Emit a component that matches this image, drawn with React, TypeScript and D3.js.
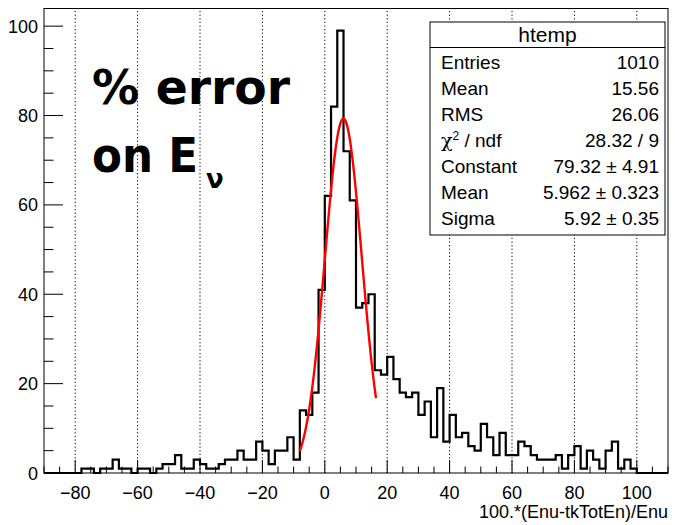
import React from 'react';
import * as d3 from 'd3';

// ---- data ----
const binStart = -90;
const binWidth = 2;
const binCounts = [
  0, 0, 0, 0, 0, 0, 1, 1, 0, 1,
  1, 3, 1, 1, 0, 1, 1, 0, 1, 2,
  2, 4, 1, 1, 3, 2, 1, 1, 2, 3,
  3, 5, 3, 3, 7, 5, 2, 5, 5, 8,
  3, 14, 13, 18, 41, 62, 82, 99, 72, 61,
  37, 38, 40, 23, 22, 26, 21, 18, 17, 18,
  13, 16, 8, 19, 7, 13, 8, 9, 6, 5,
  11, 8, 4, 9, 4, 4, 7, 6, 4, 3,
  3, 3, 4, 1, 4, 6, 1, 5, 3, 1,
  5, 7, 1, 3, 1, 0, 0, 0, 0, 0,
];
const xDomain = [-90, 110];
const yDomain = [0, 103.95];
const xMajorTicks = [-80, -60, -40, -20, 0, 20, 40, 60, 80, 100];
const yMajorTicks = [0, 20, 40, 60, 80, 100];
const xTitle = '100.*(Enu-tkTotEn)/Enu';
const statsTitle = 'htemp';
const statsLabels = ['Entries', 'Mean', 'RMS', 'CHI', 'Constant', 'Mean', 'Sigma'];
const statsValues = ['1010', '15.56', '26.06', '28.32 / 9', '79.32 \u00b1 4.91', '5.962 \u00b1 0.323', '5.92 \u00b1 0.35'];
const fitConstant = 79.32;
const fitMean = 5.962;
const fitSigma = 5.92;
const fitRange = [-8, 16.4];

// ---- layout ----
const W = 684, H = 525;
const FL = 44, FR = 668, FT = 8.5, FB = 473;
const FONT = "'Liberation Sans', Arial, Helvetica, sans-serif";
const ANNOT_FONT = "'Comic Sans MS', 'DejaVu Sans', sans-serif";

export default function App() {
  const x = d3.scaleLinear().domain(xDomain).range([FL, FR]);
  const y = d3.scaleLinear().domain(yDomain).range([FB, FT]);

  const pts: [number, number][] = [[binStart, 0]];
  binCounts.forEach((c, i) => {
    const lo = binStart + i * binWidth;
    pts.push([lo, c]);
    pts.push([lo + binWidth, c]);
  });
  pts.push([binStart + binCounts.length * binWidth, 0]);
  const histPath = d3.line<[number, number]>().x(d => x(d[0])).y(d => y(d[1]))(pts) || '';

  const fitXs = d3.range(0, 101).map(i => fitRange[0] + (fitRange[1] - fitRange[0]) * i / 100);
  const fitPath = d3.line<number>()
    .x(v => x(v))
    .y(v => y(fitConstant * Math.exp(-0.5 * Math.pow((v - fitMean) / fitSigma, 2))))(fitXs) || '';

  const xMinor = d3.range(-90, 110.01, 5).filter(v => !xMajorTicks.includes(v));
  const yMinor = d3.range(0, 101, 5).filter(v => !yMajorTicks.includes(v));

  // stats box
  const SL = 430, SR = 665, ST = 22, SB = 235, SH = 47.5;
  const rowY0 = 62, rowStep = 26;

  return (
    <svg width={W} height={H} style={{ position: 'absolute', left: 0, top: 0, background: '#fff' }}>
      <rect x={0} y={0} width={W} height={H} fill="#fff" />
      {/* grid */}
      {xMajorTicks.map(v => (
        <line key={'g' + v} x1={x(v)} x2={x(v)} y1={FB} y2={FT} stroke="#000" strokeWidth={1} strokeDasharray="1.2,2.4" />
      ))}
      {/* histogram */}
      <path d={histPath} fill="none" stroke="#000" strokeWidth={2.2} strokeLinejoin="miter" />
      {/* fit */}
      <path d={fitPath} fill="none" stroke="#ff0000" strokeWidth={2.4} />
      {/* frame */}
      <rect x={FL} y={FT} width={FR - FL} height={FB - FT} fill="none" stroke="#000" strokeWidth={1} />
      {/* x ticks */}
      {xMajorTicks.map(v => (
        <line key={'xt' + v} x1={x(v)} x2={x(v)} y1={FB} y2={FB - 13} stroke="#000" strokeWidth={1} />
      ))}
      {xMinor.map(v => (
        <line key={'xm' + v} x1={x(v)} x2={x(v)} y1={FB} y2={FB - 6.5} stroke="#000" strokeWidth={1} />
      ))}
      {xMajorTicks.map(v => (
        <text key={'xl' + v} x={x(v)} y={499} textAnchor="middle" fontFamily={FONT} fontSize={18} fill="#000">
          {v < 0 ? '\u2212' + Math.abs(v) : String(v)}
        </text>
      ))}
      <text x={FR} y={518} textAnchor="end" fontFamily={FONT} fontSize={18} fill="#000">{xTitle}</text>
      {/* y ticks */}
      {yMajorTicks.map(v => (
        <line key={'yt' + v} x1={FL} x2={FL + 19} y1={y(v)} y2={y(v)} stroke="#000" strokeWidth={1} />
      ))}
      {yMinor.map(v => (
        <line key={'ym' + v} x1={FL} x2={FL + 9.5} y1={y(v)} y2={y(v)} stroke="#000" strokeWidth={1} />
      ))}
      {yMajorTicks.map(v => (
        <text key={'yl' + v} x={38} y={y(v) + 6.5} textAnchor="end" fontFamily={FONT} fontSize={18} fill="#000">{v}</text>
      ))}
      {/* annotation */}
      <text x={92} y={104} fontFamily={ANNOT_FONT} fontWeight="bold" fontSize={48}
        textLength={198} lengthAdjust="spacingAndGlyphs" fill="#000">% error</text>
      <text x={92} y={172} fontFamily={ANNOT_FONT} fontWeight="bold" fontSize={48}
        textLength={106} lengthAdjust="spacingAndGlyphs" fill="#000">on E</text>
      <text x={206} y={188} fontFamily={ANNOT_FONT} fontWeight="bold" fontSize={26} fill="#000">{'\u03bd'}</text>
      {/* stats box */}
      <rect x={SL} y={ST} width={SR - SL} height={SB - ST} fill="#fff" stroke="#000" strokeWidth={1} />
      <line x1={SL} x2={SR} y1={SH} y2={SH} stroke="#000" strokeWidth={1} />
      <text x={(SL + SR) / 2} y={42} textAnchor="middle" fontFamily={FONT} fontSize={21} fill="#000">{statsTitle}</text>
      {statsLabels.map((l, i) => (
        <text key={'sl' + i} x={441} y={rowY0 + i * rowStep + 6.5} fontFamily={FONT} fontSize={19} fill="#000">
          {l === 'CHI' ? (
            <>
              <tspan fontFamily="'DejaVu Serif', serif">{'\u03c7'}</tspan>
              <tspan fontSize={12} dy={-7}>2</tspan>
              <tspan dy={7}>{' / ndf'}</tspan>
            </>
          ) : l}
        </text>
      ))}
      {statsValues.map((v, i) => (
        <text key={'sv' + i} x={659} y={rowY0 + i * rowStep + 6.5} textAnchor="end" fontFamily={FONT} fontSize={19} fill="#000">{v}</text>
      ))}
    </svg>
  );
}
